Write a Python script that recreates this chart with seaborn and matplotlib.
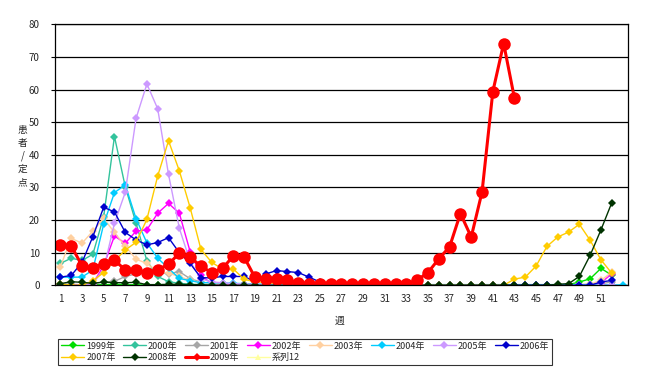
import numpy as np
import matplotlib
matplotlib.use('Agg')
import matplotlib.pyplot as plt
from matplotlib.lines import Line2D
import seaborn as sns

# weekly values per season (weeks 1..53)
weeks = list(range(1, 54))
nan = np.nan

y1999 = [0.2, 0.1, 0, 0.1, 0.2, 0.3, 0.2, 0.1, 0.1, 0.1,
         0.1, 0, 0, 0, 0, 0, 0, 0, 0, 0,
         0, 0, 0, 0, 0, 0, 0, 0, 0, 0,
         0, 0, 0, 0, 0, 0, 0, 0, 0, 0,
         0, 0, 0, 0, 0, 0, 0, 0.2, 1.0, 2.0,
         5.2, 3.1, nan]
y2000 = [6.7, 8.3, 7.6, 9.5, 21.0, 45.6, 30.2, 19.0, 7.5, 2.7,
         1.1, 0.6, 0.3, 0.2, 0.1, 0.1, 0.1, 0, 0, 0,
         0, 0, 0, 0, 0, 0, 0, 0, 0, 0,
         0, 0, 0, 0, 0, 0, 0, 0, 0, 0,
         0, 0, 0, 0, 0, 0, 0, 0, 0, 0,
         0, 0, nan]
y2001 = [0.5, 0.3, 0.2, 0.4, 1.0, 1.2, 2.7, 3.5, 4.0, 4.0,
         3.5, 4.2, 2.0, 1.0, 0.5, 0.5, 0.3, 0.3, 0.2, 0.2,
         0.1, 0.1, 0.1, 0.1, 0.1, 0.1, 0.1, 0.1, 0.1, 0.1,
         0.1, 0.1, 0.1, 0.1, 0.1, 0.1, 0.1, 0.1, 0.1, 0.1,
         0.1, 0.1, 0.1, 0.1, 0.1, 0.1, 0.1, 0.1, 0.2, 0.3,
         0.5, 1.0, nan]
y2002 = [0, 0, 0, 0.5, 6.0, 15.1, 12.9, 16.6, 17.0, 22.1,
         25.1, 22.1, 10.3, 3.0, 0.5, 0.3, 0.2, 0.1, 0, 0,
         0, 0, 0, 0, 0, 0, 0, 0, 0, 0,
         0, 0, 0, 0, 0, 0, 0, 0, 0, 0,
         0, 0, 0, 0, 0, 0, 0, 0, 0, 0.2,
         0.8, 3.5, nan]
y2003 = [5.7, 14.4, 12.9, 16.6, 20.5, 16.2, 12.0, 8.0, 6.7, 4.2,
         3.7, 2.7, 1.5, 0.8, 0.5, 0.5, 0.5, 0.5, 0.3, 0.3,
         0.2, 0.2, 0.2, 0.2, 0.2, 0.2, 0.2, 0.2, 0.2, 0.2,
         0.2, 0.2, 0.2, 0.2, 0.2, 0.2, 0.2, 0.2, 0.2, 0.2,
         0.2, 0.2, 0.2, 0.2, 0.2, 0.2, 0.2, 0.2, 0.2, 0.3,
         1.5, 4.0, nan]
y2004 = [2.5, 2.5, 2.5, 4.7, 18.7, 28.4, 30.8, 20.4, 13.0, 8.3,
         5.2, 2.1, 1.4, 0.8, 0.8, 0.7, 0.6, 0.5, 0.4, 0.3,
         0.2, 0.2, 0.2, 0.2, 0.2, 0.2, 0.2, 0.2, 0.2, 0.2,
         0.2, 0.2, 0.2, 0.2, 0.2, 0.2, 0.2, 0.2, 0.2, 0.2,
         0.2, 0.2, 0.2, 0.2, 0.2, 0.2, 0.2, 0.2, 0.2, 0.2,
         0.2, 0.1, 0.1]
y2005 = [0, 0, 0, 0.5, 5.0, 19.0, 28.5, 51.2, 61.7, 54.1,
         34.0, 17.5, 7.3, 2.0, 1.0, 0.8, 0.5, 0.4, 0.3, 0.2,
         0, 0, 0, 0, 0, 0, 0, 0, 0, 0,
         0, 0, 0, 0, 0, 0, 0, 0, 0, 0,
         0, 0, 0, 0, 0, 0, 0, 0, 0, 0,
         0, 0, nan]
y2006 = [2.5, 3.0, 7.0, 14.9, 23.9, 22.5, 16.2, 13.9, 12.4, 13.1,
         14.6, 10.0, 6.7, 2.3, 2.3, 2.7, 2.7, 2.7, 1.1, 3.5,
         4.5, 4.2, 3.9, 2.5, 1.0, 0.3, 0.2, 0.1, 0, 0,
         0, 0, 0, 0, 0, 0, 0, 0, 0, 0,
         0, 0, 0, 0, 0, 0, 0, 0, 0, 0,
         1.0, 1.5, nan]
y2007 = [0.4, 0, 0, 1.4, 3.9, 7.5, 10.8, 13.2, 20.2, 33.5,
         44.3, 35.1, 23.8, 11.0, 7.0, 5.0, 5.0, 1.8, 1.1, 0.8,
         0.6, 0.5, 0.4, 0.3, 0.2, 0.1, 0, 0, 0, 0,
         0, 0, 0, 0, 0, 0, 0, 0, 0, 0,
         0, 0, 1.9, 2.5, 5.9, 11.9, 14.8, 16.3, 18.7, 13.8,
         7.8, 3.7, nan]
y2008 = [0.5, 1.1, 0.9, 0.6, 1.0, 0.8, 0.8, 0.9, 0.2, 0.2,
         0.3, 0.3, 0.2, 0.2, 0, 0, 0, 0, 0, 0,
         0, 0, 0, 0, 0, 0, 0, 0, 0, 0,
         0, 0, 0, 0, 0, 0, 0, 0, 0, 0,
         0, 0, 0, 0, 0, 0, 0.3, 0.5, 2.7, 9.2,
         17.0, 25.3, nan]
y2009 = [12.4, 12.1, 6.0, 5.4, 6.6, 7.7, 4.7, 4.7, 3.9, 4.8,
         6.4, 9.9, 8.7, 5.8, 3.9, 5.2, 9.0, 8.6, 2.4, 1.8,
         1.9, 1.7, 0.6, 0.3, 0.3, 0.3, 0.3, 0.3, 0.3, 0.3,
         0.3, 0.3, 0.5, 1.6, 3.9, 8.1, 11.8, 22.0, 14.8, 28.6,
         59.4, 74.1, 57.3] + [nan] * 10

labels = ['1999年', '2000年', '2001年', '2002年', '2003年', '2004年',
          '2005年', '2006年', '2007年', '2008年', '2009年']
series = [y1999, y2000, y2001, y2002, y2003, y2004,
          y2005, y2006, y2007, y2008, y2009]
colors = ['#00DD00', '#33C39C', '#A6A6A6', '#FF00FF', '#FFD0A0', '#00CCFF',
          '#CC99FF', '#0000CC', '#FFCC00', '#003300', '#FF0000']

sns.set_style('white')
plt.rcParams['font.family'] = ['Noto Sans CJK JP', 'DejaVu Sans']

fig = plt.figure(figsize=(6.69, 3.90), dpi=100)
ax = fig.add_axes([0.0822, 0.2685, 0.8565, 0.6692])

handles = {}
for name, vals, c in zip(labels, series, colors):
    if name == '2009年':
        sns.lineplot(x=weeks, y=vals, color=c, marker='o', markersize=9,
                     linewidth=2.2, markeredgewidth=0, ax=ax, legend=False)
        handles[name] = Line2D([], [], color=c, lw=2.2, marker='D', ms=4, mew=0)
    else:
        sns.lineplot(x=weeks, y=vals, color=c, marker='D', markersize=4,
                     linewidth=1, markeredgewidth=0, ax=ax, legend=False)
        handles[name] = Line2D([], [], color=c, lw=1, marker='D', ms=4, mew=0)
handles['系列12'] = Line2D([], [], color='#FFFFA0', lw=1, marker='^', ms=5, mew=0)

ax.set_xlim(0.5, 53.5)
ax.set_ylim(0, 80)
ax.set_yticks(range(0, 81, 10))
ax.set_xticks(range(1, 52, 2))
ax.set_xticks(np.arange(0.5, 53.6, 1), minor=True)
ax.tick_params(axis='x', which='major', length=0, labelsize=7, pad=6)
ax.tick_params(axis='x', which='minor', length=2.5, direction='in', color='black')
ax.tick_params(axis='y', which='major', length=3, direction='out', labelsize=7,
               left=True, color='black', pad=8)
ax.yaxis.grid(True, color='black', lw=0.9)
ax.set_axisbelow(True)
for sp in ax.spines.values():
    sp.set_color('black')
    sp.set_linewidth(0.9)
ax.set_xlabel('')
ax.set_ylabel('')

fig.text(0.508, 0.178, '週', fontsize=7, ha='center', va='center')
fig.text(0.034, 0.60, '患\n者\n/\n定\n点', fontsize=7, ha='center', va='center',
         linespacing=1.35)

order = ['1999年', '2007年', '2000年', '2008年', '2001年', '2009年', '2002年', '系列12',
         '2003年', '2004年', '2005年', '2006年']
leg = fig.legend([handles[k] for k in order], order, ncol=8, loc='upper left',
                 bbox_to_anchor=(0.087, 0.131), fontsize=6.5, frameon=True,
                 fancybox=False, handlelength=2.6, handletextpad=0.2,
                 columnspacing=0.8, borderpad=0.3, labelspacing=0.25, numpoints=1,
                 borderaxespad=0)
leg.get_frame().set_edgecolor('black')
leg.get_frame().set_linewidth(0.8)

fig.savefig('out.png', dpi=100)
